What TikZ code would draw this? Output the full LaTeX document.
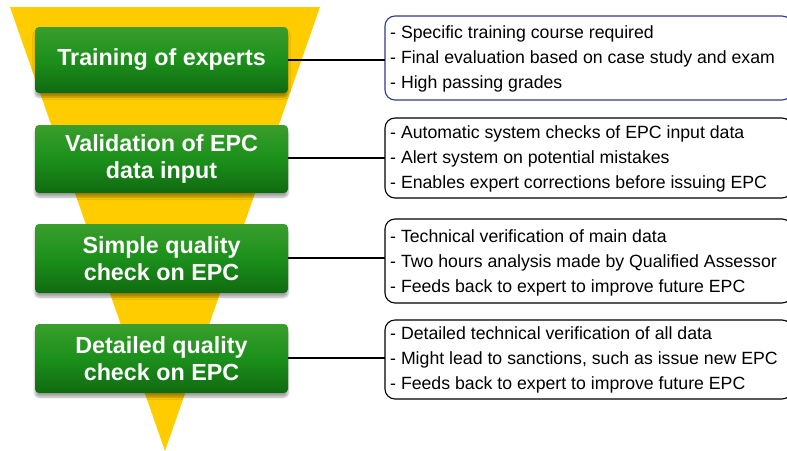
\documentclass[tikz,border=0pt]{standalone}
\usepackage{fontspec}
\setmainfont{Liberation Sans}
\usetikzlibrary{shadows.blur}
\definecolor{funnel}{HTML}{FFCC00}
\definecolor{gtop}{HTML}{3A9E2C}
\definecolor{gmid}{HTML}{1B901B}
\definecolor{gbot}{HTML}{106A10}
\definecolor{bluebd}{HTML}{2E3A8C}
\tikzset{
  stage/.style={rounded corners=4pt, minimum width=253pt, inner sep=0pt,
    top color=gtop, bottom color=gbot, middle color=gmid,
    text=white, font=\fontsize{23.3}{27}\selectfont\bfseries, align=center,
    blur shadow={shadow xshift=0pt, shadow yshift=-4pt, shadow blur steps=6, shadow opacity=35}},
  infobox/.style={draw=black, line width=1.1pt, rounded corners=10pt, fill=white},
  infotext/.style={anchor=west, align=left, inner sep=0pt, font=\fontsize{17.7}{25}\selectfont},
  link/.style={draw=black, line width=1.3pt}
}
\begin{document}
\begin{tikzpicture}[x=1pt,y=-1pt]
\useasboundingbox (0,0) rectangle (787,450);
\fill[funnel] (10,7) -- (320,7) -- (165,451) -- cycle;
\node[stage, minimum height=66pt] (g1) at (161.5,60) {Training of experts};
\node[stage, minimum height=68pt] (g2) at (161.5,159) {Validation of EPC\\data input};
\node[stage, minimum height=69pt] (g3) at (161.5,258.5) {Simple quality\\check on EPC};
\node[stage, minimum height=69pt] (g4) at (161.5,358.5) {Detailed quality\\check on EPC};
\draw[infobox, draw=bluebd] (385,16) rectangle (792,100);
\draw[infobox] (385,118) rectangle (792,198);
\draw[infobox] (385,219) rectangle (792,303);
\draw[infobox] (385,320) rectangle (792,399);
\coordinate (r1) at (385,60);
\coordinate (r2) at (385,158);
\coordinate (r3) at (385,258);
\coordinate (r4) at (385,358);
\node[infotext] (t1) at (390,59) {- Specific training course required\\- Final evaluation based on case study and exam\\- High passing grades};
\node[infotext] (t2) at (390,159) {- Automatic system checks of EPC input data\\- Alert system on potential mistakes\\- Enables expert corrections before issuing EPC};
\node[infotext] (t3) at (390,263) {- Technical verification of main data\\- Two hours analysis made by Qualified Assessor\\- Feeds back to expert to improve future EPC};
\node[infotext] (t4) at (390,360) {- Detailed technical verification of all data\\- Might lead to sanctions, such as issue new EPC\\- Feeds back to expert to improve future EPC};
\draw[link] (g1.east |- r1) -- (r1);
\draw[link] (g2.east |- r2) -- (r2);
\draw[link] (g3.east |- r3) -- (r3);
\draw[link] (g4.east |- r4) -- (r4);
\end{tikzpicture}
\end{document}
